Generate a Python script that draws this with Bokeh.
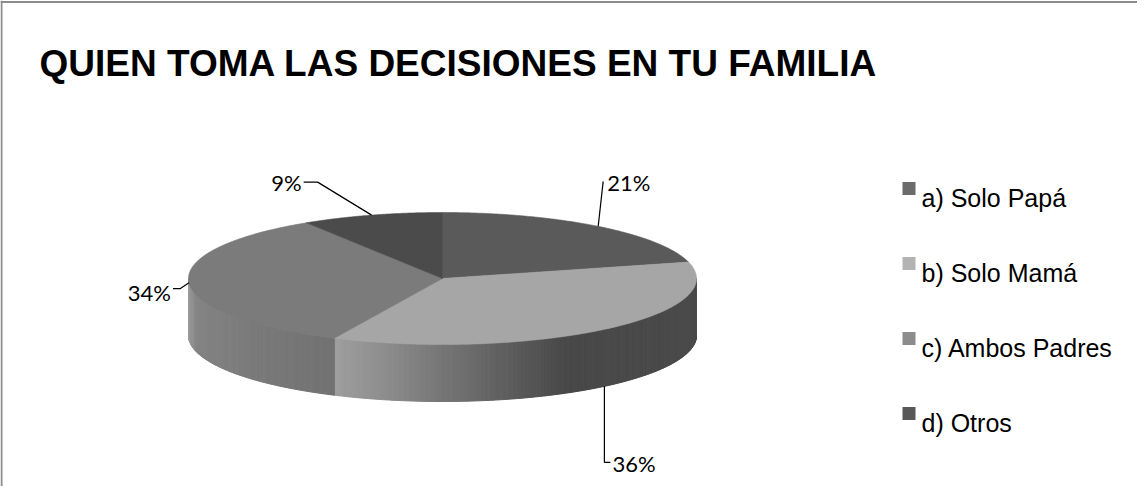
import numpy as np
from bokeh.plotting import figure
from bokeh.models import Range1d, Span, Label
from bokeh.core.properties import value
from bokeh.embed import file_html
from bokeh.resources import INLINE

# ---------------- data ----------------
title_text = "QUIEN TOMA LAS DECISIONES EN TU  FAMILIA"
categories = ["a) Solo Papá", "b) Solo Mamá", "c) Ambos Padres", "d) Otros"]
percent = [21, 36, 34, 9]
pct_labels = ["21%", "36%", "34%", "9%"]

# ---------------- style ----------------
top_colors = ["#5a5a5a", "#a6a6a6", "#7b7b7b", "#4b4b4b"]
legend_colors = ["#6b6b6b", "#b3b3b3", "#8c8c8c", "#585858"]
# wall shading stops: (sin(theta) position, gray level)
wall_stops = [
    ([0.9, 1.0], [0x4c, 0x4c]),
    ([-0.45, -0.22, 0.06, 0.48, 1.0], [0xa0, 0x8c, 0x70, 0x48, 0x4a]),
    ([-1.0, -0.97, -0.75, -0.45], [0x9a, 0x84, 0x7a, 0x72]),
    ([-1.0, 0.0], [0x50, 0x50]),
]

# ---------------- layout (page pixel coordinates) ----------------
W, H = 1137, 486
X0, Y0 = 8, 8
cx, cy = 450.0, 286.0
ra, rb = 254.0, 66.0
depth = 57.0
# label offsets relative to the slice anchor point: elbows and text position
leader_offsets = [
    [(5, -45)],
    [(0, 76), (6, 76)],
    [(-9, 6), (-16, 6)],
    [(-54, -33), (-68, -33)],
]
text_offsets = [(9, -44), (8, 77), (-18, 10), (-70, -33)]
text_aligns = ["left", "left", "right", "right"]
anchor_on_bottom = [False, True, False, False]

legend_x_sq = 916.5
legend_x_txt = 929
legend_y0 = 196
legend_dy = 75

p = figure(width=W, height=H, output_backend="svg", toolbar_location=None,
           x_range=Range1d(X0, X0 + W), y_range=Range1d(Y0 + H, Y0),
           min_border=0, outline_line_color=None)
p.axis.visible = False
p.grid.visible = False
p.background_fill_color = "white"
p.border_fill_color = "white"

# frame lines (top and left)
p.add_layout(Span(location=9.5, dimension="width", line_color="#8c8c8c", line_width=2))
p.add_layout(Span(location=9.0, dimension="height", line_color="#8c8c8c", line_width=2))

# title
p.add_layout(Label(x=47, y=71, text=title_text, text_font="Liberation Sans",
                   text_font_style="bold", text_font_size="37px",
                   text_color="black", text_baseline="alphabetic"))


def pt(theta, drop=0.0):
    return cx + ra * np.sin(theta), cy - rb * np.cos(theta) + drop


vals = np.array(percent, dtype=float)
ends = np.cumsum(vals) / vals.sum() * 2 * np.pi
starts = np.concatenate([[0.0], ends[:-1]])
mids = (starts + ends) / 2

# side walls (front half only)
wxs, wys, wcols = [], [], []
for i in range(len(vals)):
    lo = max(starts[i], np.pi / 2)
    hi = min(ends[i], 3 * np.pi / 2)
    if hi <= lo:
        continue
    n = max(2, int((hi - lo) / 0.01))
    ts = np.linspace(lo, hi, n + 1)
    sx, sv = wall_stops[i]
    for k in range(n):
        t0, t1 = ts[k], ts[k + 1]
        xa, ya = pt(t0)
        xb, yb = pt(t1)
        wxs.append([xa, xb, xb, xa])
        wys.append([ya, yb, yb + depth, ya + depth])
        s = np.sin((t0 + t1) / 2)
        g = int(round(np.interp(s, sx, sv)))
        wcols.append("#%02x%02x%02x" % (g, g, g))
p.patches(wxs, wys, fill_color=wcols, line_color=wcols, line_width=1)

# top faces
txs, tys = [], []
for i in range(len(vals)):
    ts = np.linspace(starts[i], ends[i], 200)
    xs, ys = pt(ts)
    txs.append(np.concatenate([[cx], xs]).tolist())
    tys.append(np.concatenate([[cy], ys]).tolist())
p.patches(txs, tys, fill_color=top_colors, line_color=top_colors, line_width=0.6)

# leader lines and percentage labels
lxs, lys = [], []
tx, ty = [], []
for i in range(len(vals)):
    ax, ay = pt(mids[i], depth if anchor_on_bottom[i] else 0.0)
    xs = [ax] + [ax + dx for dx, dy in leader_offsets[i]]
    ys = [ay] + [ay + dy for dx, dy in leader_offsets[i]]
    lxs.append(xs)
    lys.append(ys)
    tx.append(ax + text_offsets[i][0])
    ty.append(ay + text_offsets[i][1])
p.multi_line(lxs, lys, line_color="black", line_width=1.2)
for i in range(len(vals)):
    p.text([tx[i]], [ty[i]], text=[pct_labels[i]], text_font=value("Lato"),
           text_font_size=value("22px"), text_color="black",
           text_align=text_aligns[i], text_baseline="alphabetic")

# legend
ly = [legend_y0 + k * legend_dy for k in range(len(categories))]
p.scatter([legend_x_sq] * len(categories), ly, marker="square", size=13,
          fill_color=legend_colors, line_color=None)
p.text([legend_x_txt] * len(categories), [y + 9 for y in ly], text=categories,
       text_font=value("Liberation Sans"), text_font_size=value("25px"),
       text_color="black", text_align="left", text_baseline="alphabetic")

open("out.html", "w").write(file_html(p, INLINE))
